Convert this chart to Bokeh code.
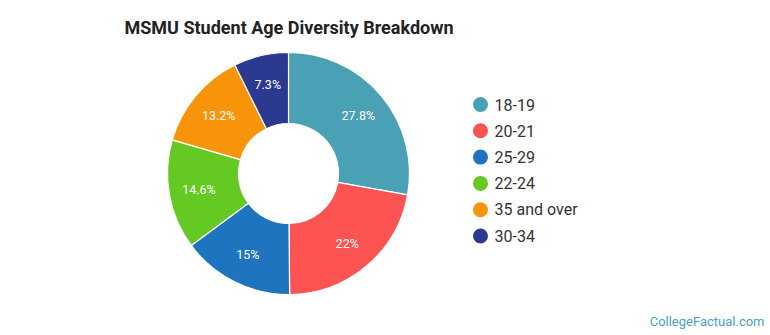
import math
from bokeh.plotting import figure
from bokeh.models import Range1d, ColumnDataSource
from bokeh.core.properties import value
from bokeh.embed import file_html
from bokeh.resources import INLINE

categories = ["18-19", "20-21", "25-29", "22-24", "35 and over", "30-34"]
shares = [27.8, 22.0, 15.0, 14.6, 13.2, 7.3]
labels = ["27.8%", "22%", "15%", "14.6%", "13.2%", "7.3%"]
colors = ["#4aa0b4", "#fd5353", "#1f74c0", "#64c923", "#f89409", "#2b3990"]
title_text = "MSMU Student Age Diversity Breakdown"
credit_text = "CollegeFactual.com"

W, H = 770, 335
p = figure(width=W, height=H, output_backend="svg", toolbar_location=None,
           x_range=Range1d(0, W), y_range=Range1d(0, H), min_border=0,
           outline_line_color=None, background_fill_color="white",
           border_fill_color="white")
p.axis.visible = False
p.grid.visible = False

cx, cy = 288, H - 173
r_out, r_in, r_lab = 121, 50, 91
total = sum(shares)
starts, ends, lx, ly = [], [], [], []
cum = 0.0
for s in shares:
    a0 = math.pi / 2 - cum / total * 2 * math.pi
    cum += s
    a1 = math.pi / 2 - cum / total * 2 * math.pi
    starts.append(a0)
    ends.append(a1)
    mid = (a0 + a1) / 2
    lx.append(cx + r_lab * math.cos(mid))
    ly.append(cy + r_lab * math.sin(mid))

src = ColumnDataSource(dict(start=starts, end=ends, color=colors, lx=lx, ly=ly, label=labels))
p.annular_wedge(x=cx, y=cy, inner_radius=r_in, outer_radius=r_out,
                start_angle="start", end_angle="end", direction="clock",
                fill_color="color", line_color="white", line_width=1.2, source=src)
p.text(x="lx", y="ly", text="label", source=src, text_color="white",
       text_font=value("Roboto"), text_font_size="12.5px",
       text_align="center", text_baseline="middle")

# legend
leg_y = [H - (104 + i * 26.3) for i in range(len(categories))]
p.scatter(x=[480] * len(categories), y=leg_y, size=15, fill_color=colors, line_color=None)
p.text(x=[494] * len(categories), y=leg_y, text=categories, text_color="#333333",
       text_font=value("Roboto"), text_font_size="16px", text_baseline="middle")

# title
p.text(x=[124], y=[H - 27], text=[title_text], text_color="#222222",
       text_font=value("Roboto"), text_font_size="18px", text_font_style="bold",
       text_baseline="middle")
# credit
p.text(x=[764], y=[H - 321], text=[credit_text], text_color="#4a9fc0",
       text_font=value("Roboto"), text_font_size="13px", text_align="right",
       text_baseline="middle")

open("out.html", "w").write(file_html(p, INLINE))
